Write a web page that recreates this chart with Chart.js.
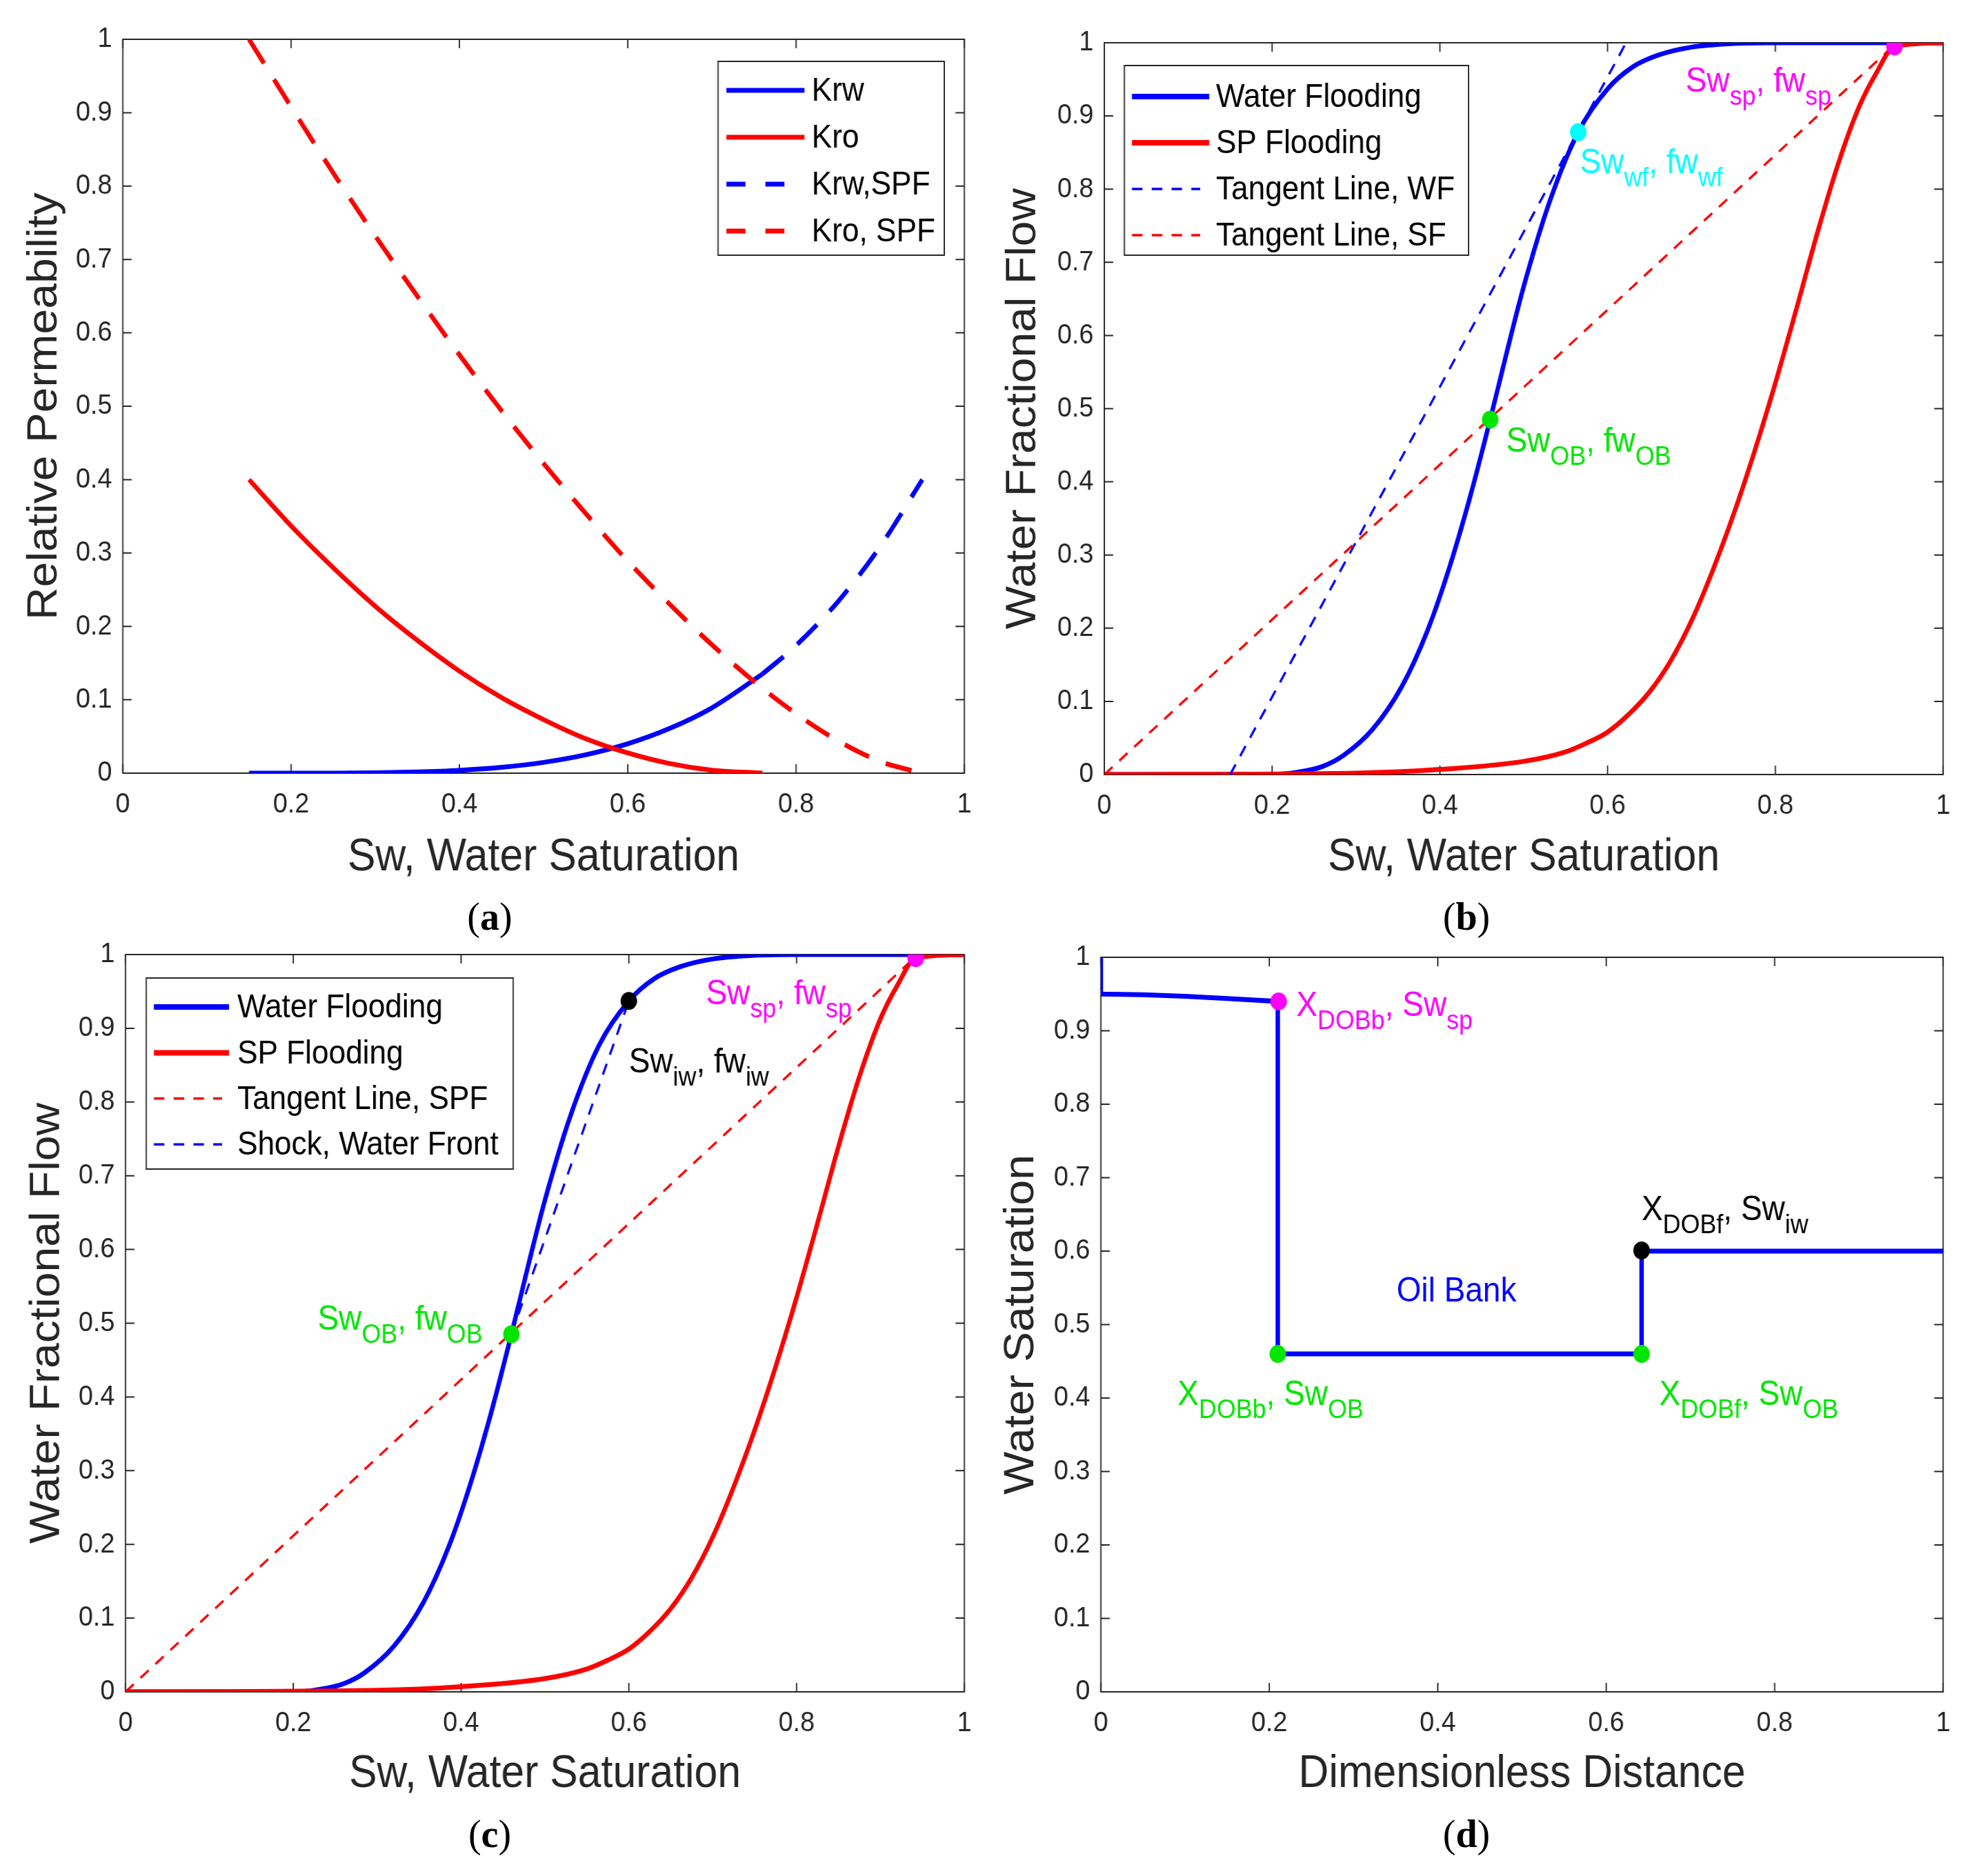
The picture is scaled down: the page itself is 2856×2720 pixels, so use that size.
<!DOCTYPE html>
<html>
<head>
<meta charset="utf-8">
<script src="https://cdn.jsdelivr.net/npm/chart.js@4.4.0/dist/chart.umd.min.js"></script>
<style>
  html, body { margin: 0; padding: 0; background: #fff; }
  body { width: 2856px; height: 2720px; position: relative; overflow: hidden; }
  .panel { position: absolute; transform-origin: 0 0; transform: scaleX(0.92); }
  .panel canvas { display: block; }
  .tag { position: absolute; font-family: "Liberation Serif", "DejaVu Serif", serif; font-size: 56px;
         line-height: 60px; transform: translateX(-50%); color: #000; }
</style>
</head>
<body>
<div class="panel" style="left:0;top:0"><canvas id="chartA"></canvas></div>
<div class="panel" style="left:1428px;top:0"><canvas id="chartB"></canvas></div>
<div class="panel" style="left:0;top:1330px"><canvas id="chartC"></canvas></div>
<div class="panel" style="left:1428px;top:1330px"><canvas id="chartD"></canvas></div>
<div class="tag" style="left:710px;top:1299px">(<b>a</b>)</div>
<div class="tag" style="left:2126px;top:1299px">(<b>b</b>)</div>
<div class="tag" style="left:710px;top:2629px">(<b>c</b>)</div>
<div class="tag" style="left:2126px;top:2629px">(<b>d</b>)</div>
<script>
// ---- values ----
const tickX = [0, 0.2, 0.4, 0.6, 0.8, 1];
const tickY = [0, 0.1, 0.2, 0.3, 0.4, 0.5, 0.6, 0.7, 0.8, 0.9, 1];

// (a) relative permeability
const krSw     = [0.15, 0.2, 0.25, 0.3, 0.35, 0.4, 0.45, 0.5, 0.55, 0.6, 0.65, 0.7, 0.76];
const krw      = [0, 0, 0.0001, 0.0005, 0.0016, 0.0038, 0.0079, 0.0147, 0.025, 0.04, 0.061, 0.089, 0.135];
const kro      = [0.4, 0.337, 0.28, 0.2275, 0.181, 0.139, 0.103, 0.073, 0.047, 0.0275, 0.013, 0.004, 0];
const krwSpfSw = [0.76, 0.8, 0.85, 0.9, 0.95];
const krwSpf   = [0.135, 0.174, 0.234, 0.309, 0.4];
const kroSpfSw = [0.15, 0.2, 0.25, 0.3, 0.35, 0.4, 0.45, 0.5, 0.55, 0.6, 0.65, 0.7, 0.75, 0.8, 0.85, 0.9, 0.95];
const kroSpf   = [1, 0.908, 0.818, 0.732, 0.65, 0.57, 0.494, 0.422, 0.354, 0.289, 0.23, 0.175, 0.125, 0.081, 0.044, 0.016, 0];

// (b), (c) fractional flow
const wfSw = [0, 0.2, 0.23, 0.26, 0.285, 0.32, 0.355, 0.385, 0.41, 0.435, 0.46, 0.48, 0.5, 0.53, 0.565, 0.6, 0.63, 0.66, 0.7, 0.75, 0.8, 1];
const wfFw = [0, 0, 0.003, 0.011, 0.026, 0.062, 0.121, 0.196, 0.278, 0.375, 0.485, 0.578, 0.667, 0.78, 0.878, 0.937, 0.967, 0.983, 0.994, 0.999, 1, 1];
const spSw = [0, 0.3, 0.4, 0.5, 0.55, 0.575, 0.6, 0.625, 0.65, 0.675, 0.7, 0.725, 0.75, 0.775, 0.8, 0.825, 0.85, 0.875, 0.9, 0.92, 0.942, 1];
const spFw = [0, 0.002, 0.007, 0.018, 0.031, 0.043, 0.058, 0.082, 0.113, 0.155, 0.21, 0.278, 0.355, 0.441, 0.535, 0.636, 0.74, 0.835, 0.913, 0.958, 0.995, 1];
const tanWfSw = [0.15, 0.622];
const tanWfFw = [0, 1];
const tanSfSw = [0, 0.94];
const tanSfFw = [0, 0.995];
const shockSw = [0.46, 0.6];
const shockFw = [0.485, 0.937];

// (d) saturation profile
const xd  = [0, 0, 0.05, 0.1, 0.15, 0.21, 0.21, 0.642, 0.642, 1];
const swd = [1, 0.95, 0.949, 0.947, 0.944, 0.94, 0.46, 0.46, 0.6, 0.6];

const FONT = '"Liberation Sans", Arial, sans-serif';
const AXIS = '#262626';

function xy(xs, ys) {
  return xs.map((x, i) => ({ x: x, y: ys[i] }));
}

function curve(label, xs, ys, color, width, dash, order, extra) {
  return Object.assign({
    label: label, data: xy(xs, ys), showLine: true, borderColor: color, backgroundColor: color,
    borderWidth: width, borderDash: dash || [], pointRadius: 0, fill: false,
    cubicInterpolationMode: 'monotone', order: order
  }, extra || {});
}

function dot(x, y, color) {
  return { data: [{ x: x, y: y }], showLine: false, pointRadius: 13, pointHoverRadius: 13,
           pointBackgroundColor: color, pointBorderColor: color, pointBorderWidth: 0, order: 0 };
}

// legends, text notes for each canvas
const decos = {};

function drawParts(ctx, x, y, parts, color) {
  ctx.fillStyle = color;
  ctx.textBaseline = 'alphabetic';
  ctx.textAlign = 'left';
  parts.forEach(p => {
    const sub = p[1] === 1;
    ctx.font = (sub ? 39 : 50) + 'px ' + FONT;
    ctx.fillText(p[0], x, sub ? y + 19 : y);
    x += ctx.measureText(p[0]).width;
  });
}

const frame = {
  id: 'frame',
  beforeDatasetsDraw(chart) {
    const { ctx, chartArea: a, scales: { x, y } } = chart;
    ctx.save();
    ctx.strokeStyle = AXIS;
    ctx.lineWidth = 2;
    ctx.strokeRect(a.left, a.top, a.right - a.left, a.bottom - a.top);
    ctx.beginPath();
    x.ticks.forEach(t => {
      const px = x.getPixelForValue(t.value);
      ctx.moveTo(px, a.bottom); ctx.lineTo(px, a.bottom - 13);
      ctx.moveTo(px, a.top); ctx.lineTo(px, a.top + 13);
    });
    y.ticks.forEach(t => {
      const py = y.getPixelForValue(t.value);
      ctx.moveTo(a.left, py); ctx.lineTo(a.left + 14, py);
      ctx.moveTo(a.right, py); ctx.lineTo(a.right - 14, py);
    });
    ctx.stroke();
    ctx.restore();
  },
  afterDatasetsDraw(chart) {
    const d = decos[chart.canvas.id];
    if (!d) return;
    const { ctx, scales: { x, y } } = chart;
    ctx.save();
    (d.notes || []).forEach(n => {
      drawParts(ctx, x.getPixelForValue(n.x), y.getPixelForValue(n.y), n.parts, n.color);
    });
    const lg = d.legend;
    if (lg) {
      ctx.fillStyle = '#fff';
      ctx.fillRect(lg.x, lg.y, lg.w, lg.h);
      ctx.strokeStyle = AXIS;
      ctx.lineWidth = 2;
      ctx.setLineDash([]);
      ctx.strokeRect(lg.x, lg.y, lg.w, lg.h);
      let row = 0;
      chart.data.datasets.forEach(ds => {
        if (!ds.label) return;
        const cy = lg.y + lg.first + row * lg.step;
        const dashed = ds.borderDash && ds.borderDash.length;
        ctx.strokeStyle = ds.borderColor;
        ctx.lineWidth = ds.legendWidth || ds.borderWidth;
        ctx.setLineDash(dashed ? ds.legendDash : []);
        ctx.beginPath();
        ctx.moveTo(lg.x0, cy);
        ctx.lineTo(lg.x0 + (dashed ? lg.dashLen : lg.lineLen), cy);
        ctx.stroke();
        ctx.setLineDash([]);
        ctx.fillStyle = '#000';
        ctx.font = '48px ' + FONT;
        ctx.textBaseline = 'middle';
        ctx.fillText(ds.label, lg.textX, cy + 2);
        row++;
      });
    }
    ctx.restore();
  }
};

function panel(id, g, xTitle, yTitle, datasets) {
  const cv = document.getElementById(id);
  cv.width = g.w;
  cv.height = g.h;
  const tickFont = { family: FONT, size: 41 };
  const titleFont = { family: FONT, size: 66 };
  return new Chart(cv, {
    type: 'scatter',
    data: { datasets: datasets },
    options: {
      responsive: false,
      animation: false,
      devicePixelRatio: 1,
      layout: { padding: { left: 0, top: g.top, right: g.w - g.right, bottom: 0 } },
      plugins: { legend: { display: false }, tooltip: { enabled: false } },
      scales: {
        x: {
          type: 'linear', min: 0, max: 1,
          afterBuildTicks: s => { s.ticks = tickX.map(v => ({ value: v })); },
          afterFit: s => { s.height = g.h - g.bottom; },
          grid: { display: false, drawTicks: false },
          border: { display: false },
          ticks: { padding: 21, color: AXIS, font: tickFont, maxRotation: 0, autoSkip: false,
                   callback: v => String(v) },
          title: { display: true, text: xTitle, color: AXIS, font: titleFont, padding: { top: 4, bottom: 3 } }
        },
        y: {
          type: 'linear', min: 0, max: 1,
          afterBuildTicks: s => { s.ticks = tickY.map(v => ({ value: v })); },
          afterFit: s => { s.width = g.left; },
          grid: { display: false, drawTicks: false },
          border: { display: false },
          ticks: { padding: 17, color: AXIS, font: tickFont, autoSkip: false, callback: v => String(v) },
          title: { display: true, text: yTitle, color: AXIS, font: titleFont,
                   padding: { top: g.yTitle - 39.6, bottom: 0 } }
        }
      }
    },
    plugins: [frame]
  });
}

const BLUE = '#0000ff', RED = '#ff0000', GREEN = '#00e600', CYAN = '#00ffff', MAG = '#ff00ff';

// (a)
decos.chartA = {
  legend: { x: 1131.5, y: 89, w: 356.5, h: 281, x0: 1144.6, lineLen: 123, dashLen: 93.5,
            textX: 1279, first: 42, step: 68 }
};
panel('chartA', { w: 1552, h: 1286, left: 193.5, right: 1519.6, top: 57, bottom: 1121, yTitle: 70.7 },
  'Sw, Water Saturation', 'Relative Permeability', [
    curve('Krw', krSw, krw, BLUE, 7, null, 4),
    curve('Kro', krSw, kro, RED, 7, null, 3),
    curve('Krw,SPF', krwSpfSw, krwSpf, BLUE, 7, [42, 28], 2, { legendDash: [30, 31.5] }),
    curve('Kro, SPF', kroSpfSw, kroSpf, RED, 7, [42, 28], 1, { legendDash: [30, 31.5] })
  ]);

// (b)
decos.chartB = {
  legend: { x: 219.6, y: 95, w: 542.4, h: 275, x0: 231.5, lineLen: 121.8, dashLen: 107.6,
            textX: 364, first: 45, step: 67 },
  notes: [
    { x: 0.693, y: 0.933, color: MAG, parts: [['Sw'], ['sp', 1], [', fw'], ['sp', 1]] },
    { x: 0.567, y: 0.822, color: CYAN, parts: [['Sw'], ['wf', 1], [', fw'], ['wf', 1]] },
    { x: 0.479, y: 0.441, color: GREEN, parts: [['Sw'], ['OB', 1], [', fw'], ['OB', 1]] }
  ]
};
panel('chartB', { w: 1552, h: 1286, left: 188, right: 1509.8, top: 62, bottom: 1123, yTitle: 60.9 },
  'Sw, Water Saturation', 'Water Fractional Flow', [
    curve('Water Flooding', wfSw, wfFw, BLUE, 7, null, 5, { legendWidth: 8 }),
    curve('SP Flooding', spSw, spFw, RED, 7, null, 4, { legendWidth: 8 }),
    curve('Tangent Line, WF', tanWfSw, tanWfFw, BLUE, 3.5, [17, 14], 3, { legendDash: [16.6, 14.6], tension: 0 }),
    curve('Tangent Line, SF', tanSfSw, tanSfFw, RED, 3.5, [17, 14], 2, { legendDash: [16.6, 14.6], tension: 0 }),
    dot(0.565, 0.878, CYAN),
    dot(0.46, 0.485, GREEN),
    dot(0.942, 0.995, MAG)
  ]);

// (c)
decos.chartC = {
  legend: { x: 230.4, y: 88, w: 578.3, h: 277, x0: 242.4, lineLen: 118.5, dashLen: 107.6,
            textX: 373.9, first: 42, step: 66.4 },
  notes: [
    { x: 0.692, y: 0.933, color: MAG, parts: [['Sw'], ['sp', 1], [', fw'], ['sp', 1]] },
    { x: 0.600, y: 0.840, color: '#000', parts: [['Sw'], ['iw', 1], [', fw'], ['iw', 1]] },
    { x: 0.229, y: 0.491, color: GREEN, parts: [['Sw'], ['OB', 1], [', fw'], ['OB', 1]] }
  ]
};
panel('chartC', { w: 1552, h: 1285, left: 197.8, right: 1525, top: 54, bottom: 1123, yTitle: 75 },
  'Sw, Water Saturation', 'Water Fractional Flow', [
    curve('Water Flooding', wfSw, wfFw, BLUE, 7, null, 5, { legendWidth: 8 }),
    curve('SP Flooding', spSw, spFw, RED, 7, null, 4, { legendWidth: 8 }),
    curve('Tangent Line, SPF', tanSfSw, tanSfFw, RED, 3.5, [17, 14], 2, { legendDash: [16.6, 14.6], tension: 0 }),
    curve('Shock, Water Front', shockSw, shockFw, BLUE, 3.5, [17, 14], 3, { legendDash: [16.6, 14.6], tension: 0 }),
    dot(0.6, 0.937, '#000'),
    dot(0.46, 0.485, GREEN),
    dot(0.942, 0.995, MAG)
  ]);

// (d)
decos.chartD = {
  notes: [
    { x: 0.232, y: 0.920, color: MAG, parts: [['X'], ['DOBb', 1], [', Sw'], ['sp', 1]] },
    { x: 0.642, y: 0.642, color: '#000', parts: [['X'], ['DOBf', 1], [', Sw'], ['iw', 1]] },
    { x: 0.091, y: 0.391, color: GREEN, parts: [['X'], ['DOBb', 1], [', Sw'], ['OB', 1]] },
    { x: 0.663, y: 0.391, color: GREEN, parts: [['X'], ['DOBf', 1], [', Sw'], ['OB', 1]] },
    { x: 0.351, y: 0.531, color: BLUE, parts: [['Oil Bank']] }
  ]
};
panel('chartD', { w: 1552, h: 1285, left: 182.6, right: 1509.8, top: 58, bottom: 1123, yTitle: 57.6 },
  'Dimensionless Distance', 'Water Saturation', [
    Object.assign(curve(null, xd, swd, BLUE, 7, null, 2), { cubicInterpolationMode: 'default', tension: 0 }),
    dot(0.211, 0.94, MAG),
    dot(0.21, 0.46, GREEN),
    dot(0.642, 0.46, GREEN),
    dot(0.642, 0.601, '#000')
  ]);
</script>
</body>
</html>
